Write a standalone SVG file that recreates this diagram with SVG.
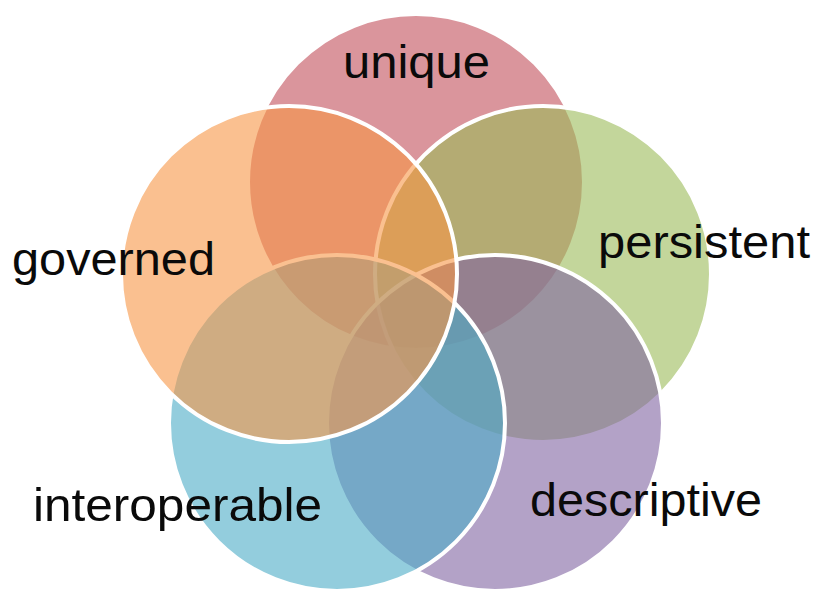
<svg xmlns="http://www.w3.org/2000/svg" width="819" height="591" viewBox="0 0 819 591">
<style>
.c{stroke:#fff;stroke-width:4;fill-opacity:0.6}
.t{font-family:"Liberation Sans",Arial,sans-serif;font-size:47px;fill:#0a0a0a}
</style>
<rect width="819" height="591" fill="#fff"/>
<g id="unique"><circle class="c" cx="416" cy="182" r="168" fill="#C14F5A"/><text class="t" x="343" y="78" textLength="147" lengthAdjust="spacingAndGlyphs">unique</text></g>
<g id="persistent"><circle class="c" cx="543" cy="274" r="168" fill="#9BBB59"/><text class="t" x="598" y="258" textLength="212" lengthAdjust="spacingAndGlyphs">persistent</text></g>
<g id="descriptive"><circle class="c" cx="495" cy="423" r="168" fill="#8064A2"/><text class="t" x="530" y="516" textLength="232" lengthAdjust="spacingAndGlyphs">descriptive</text></g>
<g id="interoperable"><circle class="c" cx="337" cy="423" r="168" fill="#4BACC6"/><text class="t" x="33" y="521" textLength="289" lengthAdjust="spacingAndGlyphs">interoperable</text></g>
<g id="governed"><circle class="c" cx="289" cy="274" r="168" fill="#F79646"/><text class="t" x="12" y="275" textLength="203" lengthAdjust="spacingAndGlyphs">governed</text></g>
<g id="connectors"></g>
</svg>
